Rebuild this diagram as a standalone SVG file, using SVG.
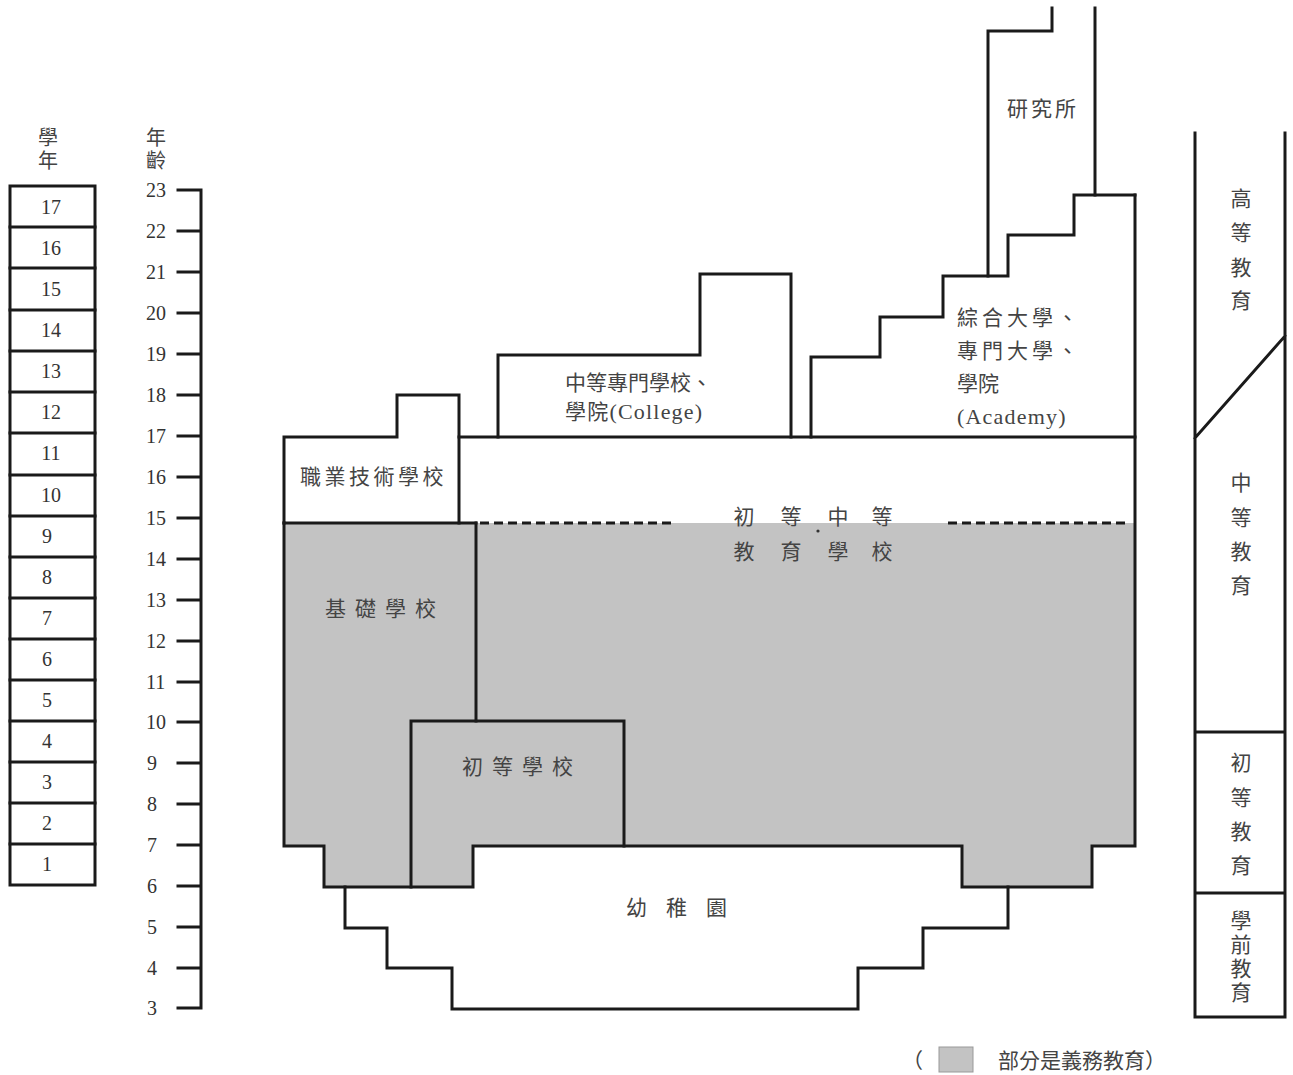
<svg xmlns="http://www.w3.org/2000/svg" width="1293" height="1075" viewBox="0 0 1293 1075">
<style>
.ln{fill:none;stroke:#1a1a1a;stroke-width:3;stroke-linejoin:miter;stroke-linecap:square}
.gray{fill:#c3c3c3;stroke:none}
.num{font-family:"Liberation Serif",serif;font-size:20px;fill:#333}
.zh{font-family:"Noto Sans CJK TC","Noto Sans CJK SC",sans-serif;font-size:21px;fill:#444}
.lat{font-family:"Liberation Serif","Noto Sans CJK TC",serif;font-size:22px;fill:#444;letter-spacing:1.2px}
.mid{text-anchor:middle}
.vert{writing-mode:vertical-rl;text-orientation:upright}
</style>
<rect width="1293" height="1075" fill="#fff"/>

<!-- Grade column -->
<g id="grade-column">
<text class="zh vert" x="48" y="127" style="font-size:20px;letter-spacing:3px">學年</text>
<rect class="ln" x="10" y="186" width="85" height="699"/>
<path class="ln" d="M10 227H95M10 268H95M10 310H95M10 351H95M10 392H95M10 433H95M10 475H95M10 516H95M10 557H95M10 598H95M10 639H95M10 680H95M10 721H95M10 762H95M10 803H95M10 844H95"/>
<g class="num mid">
<text x="51" y="214">17</text><text x="51" y="255">16</text><text x="51" y="296">15</text><text x="51" y="337">14</text>
<text x="51" y="378">13</text><text x="51" y="419">12</text><text x="51" y="460">11</text><text x="51" y="502">10</text>
<text x="47" y="543">9</text><text x="47" y="584">8</text><text x="47" y="625">7</text><text x="47" y="666">6</text>
<text x="47" y="707">5</text><text x="47" y="748">4</text><text x="47" y="789">3</text><text x="47" y="830">2</text>
<text x="47" y="871">1</text>
</g>
</g>

<!-- Age axis -->
<g id="age-axis">
<text class="zh vert" x="156" y="127" style="font-size:20px;letter-spacing:3px">年齡</text>
<path class="ln" d="M201 190V1008M178 190H201M178 231H201M178 272H201M178 313H201M178 354H201M178 395H201M178 436H201M178 477H201M178 518H201M178 559H201M178 600H201M178 641H201M178 682H201M178 722H201M178 763H201M178 804H201M178 845H201M178 886H201M178 927H201M178 968H201M178 1008H201"/>
<g class="num">
<text x="146" y="197">23</text><text x="146" y="238">22</text><text x="146" y="279">21</text><text x="146" y="320">20</text>
<text x="146" y="361">19</text><text x="146" y="402">18</text><text x="146" y="443">17</text><text x="146" y="484">16</text>
<text x="146" y="525">15</text><text x="146" y="566">14</text><text x="146" y="607">13</text><text x="146" y="648">12</text>
<text x="146" y="689">11</text><text x="146" y="729">10</text><text x="147" y="770">9</text><text x="147" y="811">8</text>
<text x="147" y="852">7</text><text x="147" y="893">6</text><text x="147" y="934">5</text><text x="147" y="975">4</text>
<text x="147" y="1015">3</text>
</g>
</g>

<!-- Gray compulsory area -->
<g id="compulsory-area">
<path class="gray" d="M284 523H1135V846H1092V887H962V846H473V887H324V846H284Z"/>
</g>

<!-- Connectors / outlines -->
<g id="connectors">
<path class="ln" d="M284 523V846H324V887H473V846H962V887H1092V846H1135V195"/>
<path class="ln" d="M284 523H476"/>
<path class="ln" d="M476 523V721"/>
<path class="ln" d="M411 887V721H624V846"/>
<path class="ln" d="M345 887V928H387V968H452V1009H858V968H923V928H1008V887"/>
<path class="ln" d="M284 523V437H397V395H459V523"/>
<path class="ln" d="M459 437H1135"/>
<path class="ln" d="M498 437V355H700V274H791V437"/>
<path class="ln" d="M811 437V357H880V317H943V276H1008V235H1074V195H1135"/>
<path class="ln" d="M988 276V31H1052V8"/>
<path class="ln" d="M1095 195V8"/>
<path d="M480 523H672M948 523H1130" fill="none" stroke="#1a1a1a" stroke-width="3" stroke-dasharray="9,5"/>
<circle cx="818" cy="531" r="1.6" fill="#333"/>
</g>

<!-- Node labels -->
<g id="node-vocational"><text class="zh" x="300" y="484" letter-spacing="3.5">職業技術學校</text></g>
<g id="node-basic"><text class="zh" x="325" y="616" letter-spacing="9">基礎學校</text></g>
<g id="node-primary"><text class="zh" x="462" y="774" letter-spacing="9">初等學校</text></g>
<g id="node-secondary">
<text class="zh mid" x="744" y="524">初</text><text class="zh mid" x="791" y="524">等</text><text class="zh mid" x="838" y="524">中</text><text class="zh mid" x="882" y="524">等</text>
<text class="zh mid" x="744" y="559">教</text><text class="zh mid" x="791" y="559">育</text><text class="zh mid" x="838" y="559">學</text><text class="zh mid" x="882" y="559">校</text>
</g>
<g id="node-college">
<text class="zh" x="565" y="390" letter-spacing="0">中等專門學校、</text>
<text class="lat" x="565" y="419"><tspan style="font-family:'Noto Sans CJK TC',sans-serif;font-size:21px">學院</tspan>(College)</text>
</g>
<g id="node-university">
<text class="zh" x="957" y="325" letter-spacing="4">綜合大學、</text>
<text class="zh" x="957" y="358" letter-spacing="4">專門大學、</text>
<text class="zh" x="957" y="391">學院</text>
<text class="lat" x="957" y="424">(Academy)</text>
</g>
<g id="node-graduate"><text class="zh" x="1007" y="116" letter-spacing="3">研究所</text></g>
<g id="node-kindergarten"><text class="zh" x="626" y="915" letter-spacing="19">幼稚園</text></g>

<!-- Right column -->
<g id="level-column">
<path class="ln" d="M1195 133V1017H1285V133M1195 732H1285M1195 893H1285M1195 438L1285 336"/>
<g class="zh mid">
<text x="1241" y="206">高</text><text x="1241" y="240">等</text><text x="1241" y="275">教</text><text x="1241" y="308">育</text>
<text x="1241" y="490">中</text><text x="1241" y="525">等</text><text x="1241" y="559">教</text><text x="1241" y="593">育</text>
<text x="1241" y="770">初</text><text x="1241" y="805">等</text><text x="1241" y="839">教</text><text x="1241" y="873">育</text>
</g>
<text class="zh vert" x="1241" y="910" style="letter-spacing:3px">學前教育</text>
</g>

<!-- Legend -->
<g id="legend">
<text class="zh" x="902" y="1068">（</text>
<rect x="939" y="1047" width="34" height="25" fill="#c3c3c3" stroke="#999" stroke-width="1"/>
<text class="zh" x="998" y="1068">部分是義務教育）</text>
</g>
</svg>
